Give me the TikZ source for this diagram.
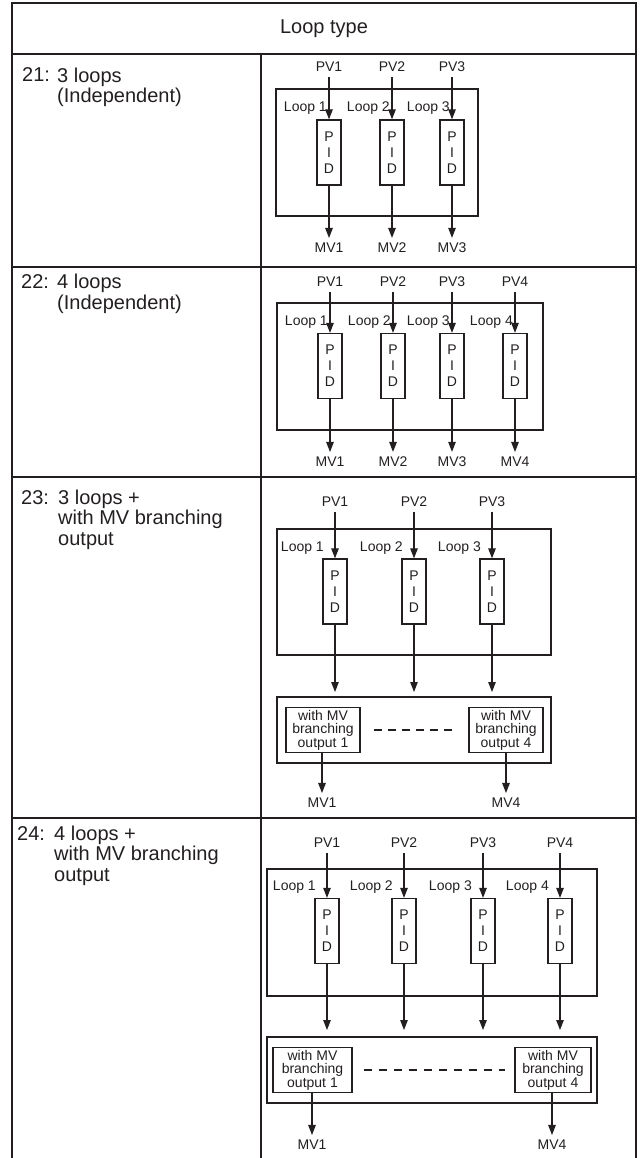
\documentclass[tikz,border=0pt]{standalone}
\usepackage{fontspec}
\setmainfont{Liberation Sans}
\usepackage{tikz}
\usetikzlibrary{positioning, arrows.meta}

\definecolor{ink}{HTML}{231F20}

\tikzset{
  tablerule/.style={line width=1.5pt, ink},
  frame/.style={line width=1.3pt, ink},
  sig/.style={font=\fontsize{14}{14}\selectfont, text=ink, inner sep=5pt},
  looplbl/.style={font=\fontsize{14}{14}\selectfont, text=ink, inner sep=0pt, anchor=east},
  pidbox/.style={draw=ink, line width=1.3pt, minimum width=24pt, minimum height=65pt,
    inner sep=0pt, align=center, text=ink, font=\fontsize{14}{16}\selectfont},
  brbox/.style={draw=ink, line width=1.3pt, minimum width=76pt, minimum height=45pt,
    inner sep=1pt, align=center, text=ink, font=\fontsize{14}{13.5}\selectfont},
  flow/.style={-{Triangle[length=10pt, width=7.5pt]}, line width=1.1pt, ink},
  brdash/.style={line width=1.1pt, ink, dash pattern=on 8pt off 6pt},
  rownum/.style={font=\fontsize{20}{21}\selectfont, text=ink, inner sep=0pt, anchor=base west},
  % multi-line: base anchor sits on the last line
  rowtxt/.style={font=\fontsize{20}{20.5}\selectfont, text=ink, inner sep=0pt, anchor=base west, align=left},
}

\begin{document}
\begin{tikzpicture}[x=1pt, y=-1pt]
  \useasboundingbox (0,0) rectangle (640,1158);

  % ── Table frame ──
  \draw[tablerule] (12,1158) -- (12,3) -- (636,3) -- (636,1158);
  \foreach \y in {54, 267, 477, 818}
    \draw[tablerule] (12,\y) -- (636,\y);
  \draw[tablerule] (261,54) -- (261,1158);
  \node[font=\fontsize{20}{21}\selectfont, text=ink] (head) at (324,28.5) {Loop type};

  % ── Left column: loop type names ──
  \node[rownum] (numA) at (22,82) {21:};
  \node[rowtxt] (txtA) at (57,103) {3 loops\\(Independent)};
  \node[rownum] (numB) at (21,288) {22:};
  \node[rowtxt] (txtB) at (57,309) {4 loops\\(Independent)};
  \node[rownum] (numC) at (21,504) {23:};
  \node[rowtxt] (txtC) at (58,545) {3 loops +\\with MV branching\\output};
  \node[rownum] (numD) at (17,840) {24:};
  \node[rowtxt] (txtD) at (54,881) {4 loops +\\with MV branching\\output};

  % ── 21: 3 loops (independent) ──
  \draw[frame] (276,89) rectangle (478,216);
  \foreach \i/\x in {1/329, 2/392, 3/452} {
    \node[sig] (pvA\i) at (\x,67) {PV\i};
    \node[pidbox] (pidA\i) at (\x,152.5) {P\\I\\D};
    \node[sig] (mvA\i) at (\x,248) {MV\i};
    \node[looplbl] (loopA\i) at ({\x-2},108) {Loop \i};
    \draw[flow] (pvA\i) -- (pidA\i);
    \draw[flow] (pidA\i) -- (mvA\i);
  }

  % ── 22: 4 loops (independent) ──
  \draw[frame] (277,303) rectangle (543,430);
  \foreach \i/\x in {1/330, 2/393, 3/452, 4/515} {
    \node[sig] (pvB\i) at (\x,282) {PV\i};
    \node[pidbox] (pidB\i) at (\x,366) {P\\I\\D};
    \node[sig] (mvB\i) at (\x,462) {MV\i};
    \node[looplbl] (loopB\i) at ({\x-2},322) {Loop \i};
    \draw[flow] (pvB\i) -- (pidB\i);
    \draw[flow] (pidB\i) -- (mvB\i);
  }

  % ── 23: 3 loops + MV branching ──
  \draw[frame] (277,529) rectangle (551,655);
  \draw[frame] (277,697) rectangle (551,763);
  \foreach \i/\x in {1/335, 2/414, 3/492} {
    \node[sig] (pvC\i) at (\x,502) {PV\i};
    \node[pidbox] (pidC\i) at (\x,591.5) {P\\I\\D};
    \node[looplbl] (loopC\i) at ({\x-11},548) {Loop \i};
    \coordinate (inC\i) at (\x,692);
    \draw[flow] (pvC\i) -- (pidC\i);
    \draw[flow] (pidC\i) -- (inC\i);
  }
  \node[brbox, minimum width=74pt] (brC1) at (323,730) {with MV\\branching\\output 1};
  \node[brbox, minimum width=74pt] (brC4) at (506,730) {with MV\\branching\\output 4};
  \draw[brdash, shorten <=13pt, shorten >=14pt] (brC1) -- (brC4);
  \node[sig] (mvC1) at (322,803) {MV1};
  \node[sig] (mvC4) at (506,803) {MV4};
  \draw[flow] (brC1.south -| mvC1) -- (mvC1);
  \draw[flow] (brC4) -- (mvC4);

  % ── 24: 4 loops + MV branching ──
  \draw[frame] (267,869) rectangle (597,996);
  \draw[frame] (267,1037) rectangle (597,1103);
  \foreach \i/\x in {1/327, 2/404, 3/483, 4/560} {
    \node[sig] (pvD\i) at (\x,843) {PV\i};
    \node[pidbox] (pidD\i) at (\x,931) {P\\I\\D};
    \node[looplbl] (loopD\i) at ({\x-11},887) {Loop \i};
    \coordinate (inD\i) at (\x,1030);
    \draw[flow] (pvD\i) -- (pidD\i);
    \draw[flow] (pidD\i) -- (inD\i);
  }
  \node[brbox, minimum width=79pt] (brD1) at (312.5,1070) {with MV\\branching\\output 1};
  \node[brbox] (brD4) at (553,1070) {with MV\\branching\\output 4};
  \draw[brdash, dash pattern=on 8pt off 7pt, shorten <=11pt, shorten >=9pt] (brD1) -- (brD4);
  \node[sig] (mvD1) at (312,1145) {MV1};
  \node[sig] (mvD4) at (552,1145) {MV4};
  \draw[flow] (brD1.south -| mvD1) -- (mvD1);
  \draw[flow] (brD4.south -| mvD4) -- (mvD4);
\end{tikzpicture}
\end{document}
